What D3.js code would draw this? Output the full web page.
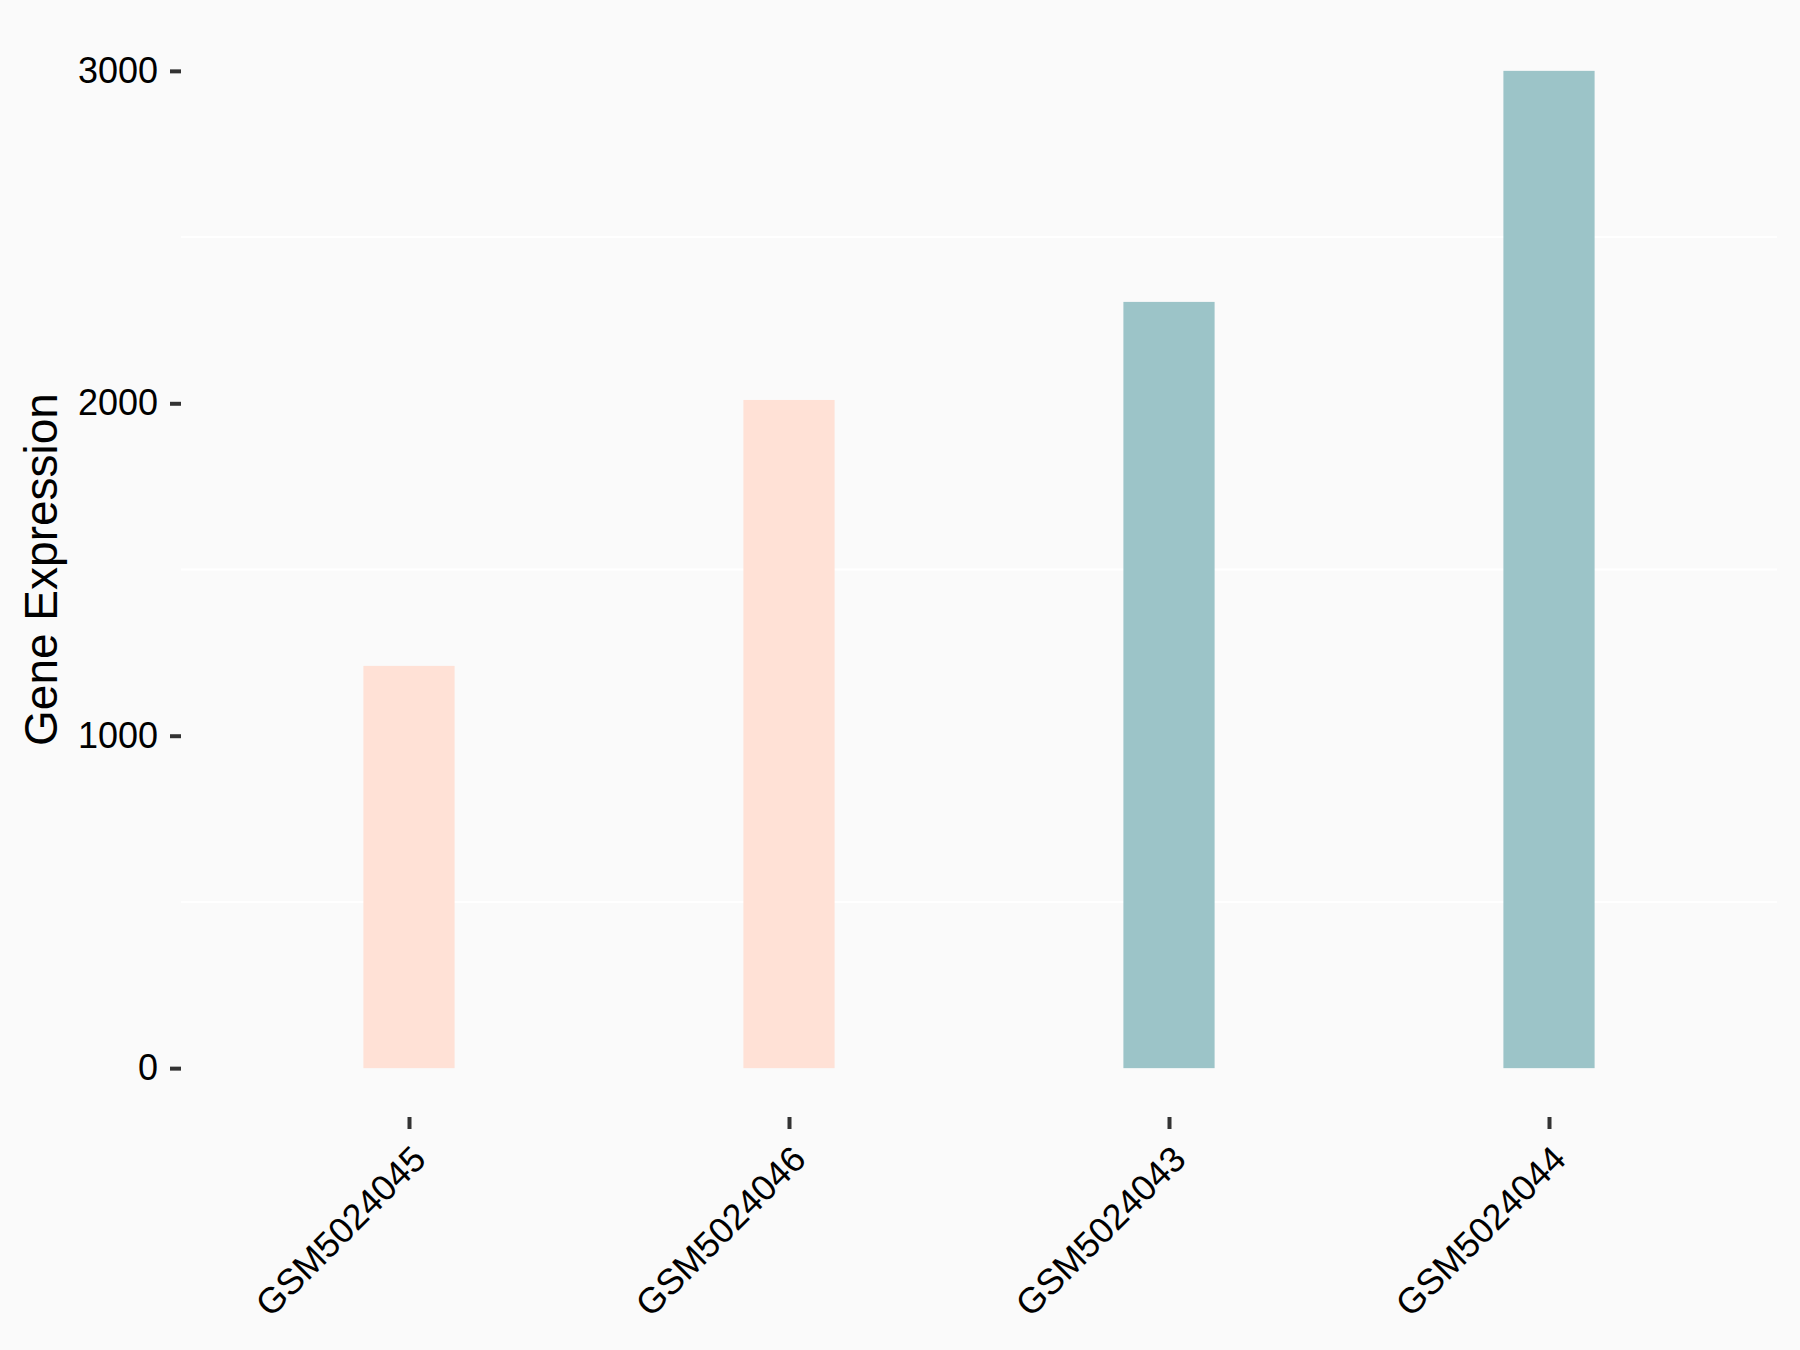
<!DOCTYPE html>
<html>
<head>
<meta charset="utf-8">
<script src="https://cdn.jsdelivr.net/npm/d3@7"></script>
<style>
  html, body { margin: 0; padding: 0; background: #FAFAFA; }
  svg { display: block; font-family: "Liberation Sans", Arial, sans-serif; }
</style>
</head>
<body>
<script>
const samples = ["GSM5024045", "GSM5024046", "GSM5024043", "GSM5024044"];
const expression = [1210, 2010, 2305, 3000];
const groups = ["A", "A", "B", "B"];
const groupColors = ["#FFE1D6", "#9CC4C8"];
const yTicks = [0, 1000, 2000, 3000];
const yMinorGrid = [500, 1500, 2500];
const yTitle = "Gene Expression";

const W = 1800, H = 1350;
const panel = { left: 181, right: 1777, top: 21, bottom: 1118 };

const svg = d3.select("body").append("svg").attr("width", W).attr("height", H);
svg.append("rect").attr("width", W).attr("height", H).attr("fill", "#FAFAFA");

const yMax = d3.max(expression);
const pad = yMax * 0.05;
const y = d3.scaleLinear().domain([-pad, yMax + pad]).range([panel.bottom, panel.top]);
const x = d3.scalePoint().domain(samples).range([panel.left, panel.right]).padding(0.6);
const color = d3.scaleOrdinal().domain(["A", "B"]).range(groupColors);
const barW = x.step() * 0.24;

// minor gridlines
svg.append("g").selectAll("line").data(yMinorGrid).join("line")
  .attr("x1", panel.left).attr("x2", panel.right)
  .attr("y1", d => y(d)).attr("y2", d => y(d))
  .attr("stroke", "#FFFFFF").attr("stroke-width", 2);

// bars
svg.append("g").selectAll("rect").data(samples).join("rect")
  .attr("x", d => x(d) - barW / 2)
  .attr("width", barW)
  .attr("y", (d, i) => y(expression[i]))
  .attr("height", (d, i) => y(0) - y(expression[i]))
  .attr("fill", (d, i) => color(groups[i]));

// y axis
const yAxis = d3.axisLeft(y).tickValues(yTicks).tickSize(11).tickPadding(12).tickFormat(d3.format("d"));
const gy = svg.append("g").attr("transform", `translate(${panel.left},0)`).call(yAxis);
gy.select(".domain").remove();
gy.selectAll(".tick line").attr("stroke", "#333333").attr("stroke-width", 4);
gy.selectAll(".tick text").attr("font-size", 36).attr("fill", "#000").attr("font-family", '"Liberation Sans", Arial, sans-serif');

// x axis
const xAxis = d3.axisBottom(x).tickSize(12).tickPadding(0);
const gx = svg.append("g").attr("transform", `translate(0,${panel.bottom - 1})`).call(xAxis);
gx.select(".domain").remove();
gx.selectAll(".tick line").attr("stroke", "#333333").attr("stroke-width", 4);
gx.selectAll(".tick text")
  .attr("font-size", 36).attr("fill", "#000").attr("font-family", '"Liberation Sans", Arial, sans-serif')
  .attr("text-anchor", "end")
  .attr("dy", "0.72em")
  .attr("transform", "translate(0,26) rotate(-45)")
  .attr("y", 0).attr("x", 0);

// y title
svg.append("text")
  .attr("transform", `translate(57,${(panel.top + panel.bottom) / 2}) rotate(-90)`)
  .attr("text-anchor", "middle")
  .attr("font-size", 46)
  .attr("fill", "#000")
  .text(yTitle);
</script>
</body>
</html>
